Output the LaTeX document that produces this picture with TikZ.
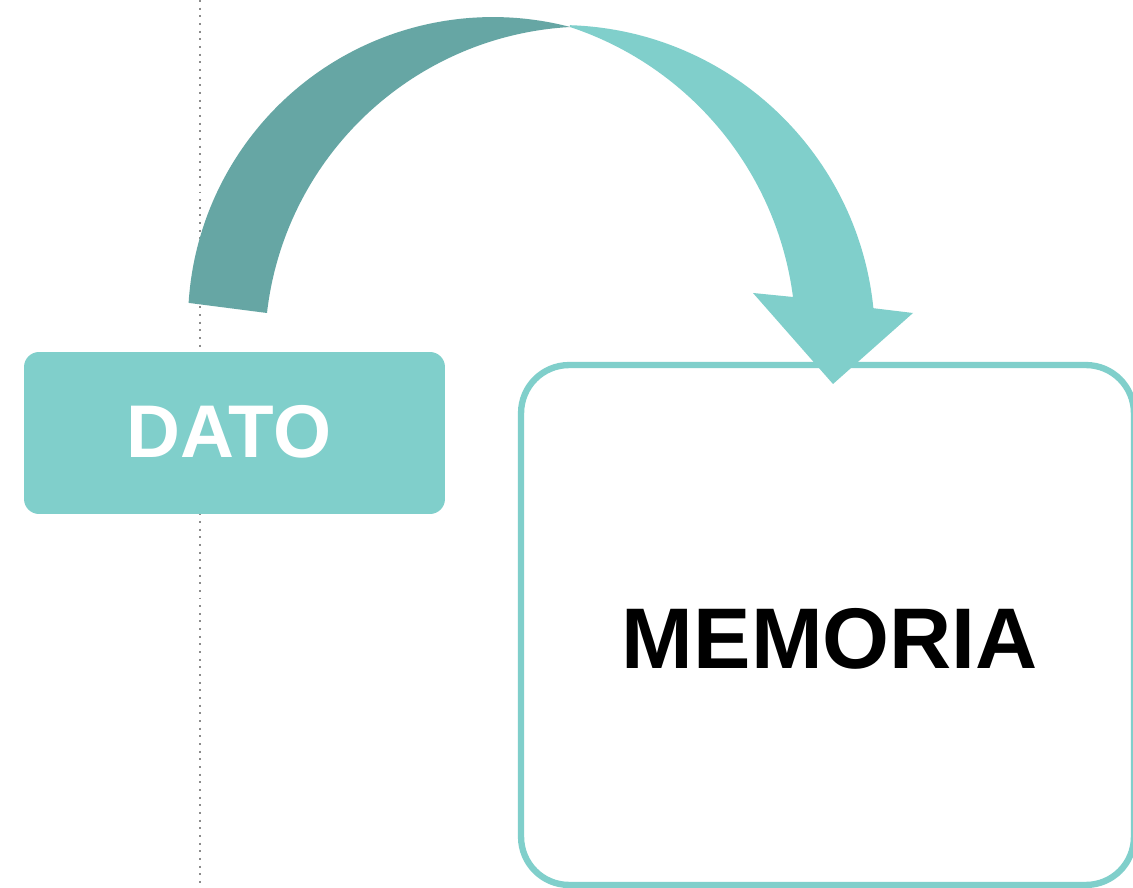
\documentclass[tikz,border=0pt]{standalone}
\usepackage{fontspec}
\setmainfont{Liberation Sans}
\definecolor{tealL}{HTML}{80CFCB}
\definecolor{tealD}{HTML}{66A6A4}
\definecolor{dotgray}{HTML}{8C8C8C}
\tikzset{
  datobox/.style={fill=tealL, rounded corners=0.3cm, minimum width=8.42cm, minimum height=3.24cm, inner sep=0pt},
  membox/.style={draw=tealL, line width=3.6pt, fill=white, rounded corners=0.96cm, minimum width=12.26cm, minimum height=10.4cm, inner sep=0pt},
  guide/.style={dotgray, line width=1.13pt, dash pattern=on 1.13pt off 3.23pt},
}
\begin{document}
\begin{tikzpicture}[x=0.02cm, y=-0.02cm]
\clip (0,0) rectangle (1133,888);
\fill[white] (0,0) rectangle (1133,888);
% dotted guide
\coordinate (gtop) at (200,0);
\coordinate (gbot) at (200,888);
\draw[guide] (gtop) -- (gbot);
% memory box
\node[membox] (memoria) at (827.5,625) {};
\node[anchor=base, text=black, font=\bfseries\fontsize{49pt}{58pt}\selectfont] (memtext) at (830,668) {MEMORIA};
% curved arrow: dark half
\fill[tealD] (188.6,302.9) arc[start angle=183.6, end angle=284.6, radius=305]
  -- (570.2,27.0) arc[start angle=266.8, end angle=186.55, radius=323.4] -- cycle;
% curved arrow: light half with head
\fill[tealL] (569.9,25.2) arc[start angle=271.8, end angle=354.2, radius=315]
  -- (913,313) -- (833,384) -- (753,293) -- (793.0,297.0)
  arc[start angle=352.6, end angle=288.3, radius=329] -- cycle;
% data box
\node[datobox] (dato) at (234.5,433) {};
\node[anchor=base, text=white, font=\bfseries\fontsize{42.5pt}{50pt}\selectfont] (datotext) at (229,458) {DATO};
\end{tikzpicture}
\end{document}
